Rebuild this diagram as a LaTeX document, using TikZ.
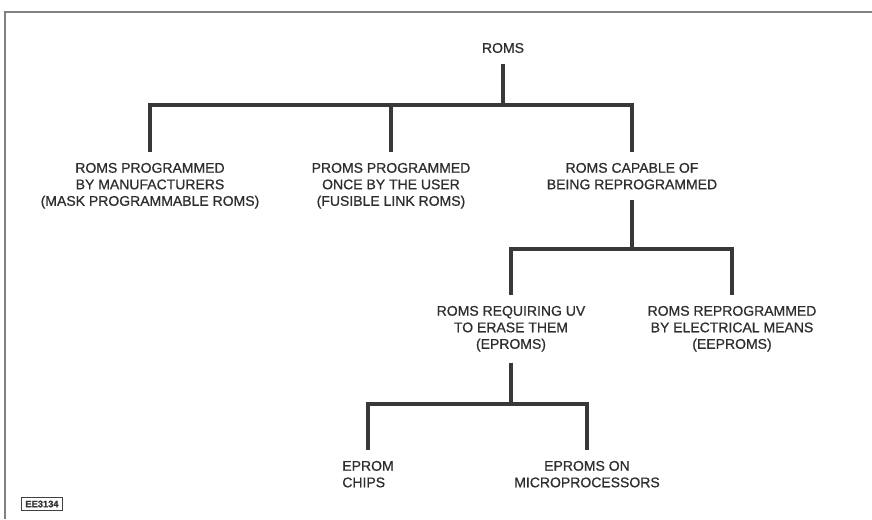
\documentclass[tikz,border=0pt]{standalone}
\usepackage{fontspec}
\setmainfont{Liberation Sans}[FakeBold=0.8]
\usepackage{tikz}
\usetikzlibrary{positioning}

\begin{document}
\begin{tikzpicture}[
  x=0.75pt,y=-0.75pt,
  lbl/.style={align=center,inner xsep=0pt,inner ysep=8pt,
              font=\fontsize{10.5}{12.4}\selectfont,text=black!82},
  tree/.style={line width=2.4pt,draw=black!78},
  frame/.style={line width=1.1pt,draw=black!50},
  tag/.style={draw=black!75,line width=1.1pt,inner xsep=3pt,inner ysep=2.5pt,
              font=\bfseries\fontsize{7}{7}\selectfont,text=black!80}
]
\useasboundingbox (0,0) rectangle (872,519);
\draw[frame] (5,519) -- (5,12) -- (872,12);

% top level
\node[lbl] (roms) at (503,48) {ROMS};
\node[lbl,anchor=north] (manuf) at (150,152)
  {ROMS PROGRAMMED\\BY MANUFACTURERS\\(MASK PROGRAMMABLE ROMS)};
\node[lbl,anchor=north] (user) at (391,152)
  {PROMS PROGRAMMED\\ONCE BY THE USER\\(FUSIBLE LINK ROMS)};
\node[lbl,anchor=north] (reprog) at (632,152)
  {ROMS CAPABLE OF\\BEING REPROGRAMMED};

% reprogrammable
\node[lbl,anchor=north] (uv) at (511,295)
  {ROMS REQUIRING UV\\TO ERASE THEM\\(EPROMS)};
\node[lbl,anchor=north] (elec) at (732,295)
  {ROMS REPROGRAMMED\\BY ELECTRICAL MEANS\\(EEPROMS)};

% eproms
\node[lbl,anchor=north,align=left] (chips) at (368,450) {EPROM\\CHIPS};
\node[lbl,anchor=north] (micro) at (587,450) {EPROMS ON\\MICROPROCESSORS};

\node[tag] (code) at (42,504) {EE3134};

\coordinate (j1) at (503,105);
\coordinate (j2) at (632,249);
\coordinate (j3) at (511,404);

\draw[tree] (roms) -- (j1);
\draw[tree] (manuf.north) |- (j1) -| (reprog.north);
\draw[tree] (user.north) -- (user.north |- j1);
\draw[tree] (reprog) -- (j2);
\draw[tree] (uv.north) |- (j2) -| (elec.north);
\draw[tree] (uv) -- (j3);
\draw[tree] (chips.north) |- (j3) -| (micro.north);
\end{tikzpicture}
\end{document}
